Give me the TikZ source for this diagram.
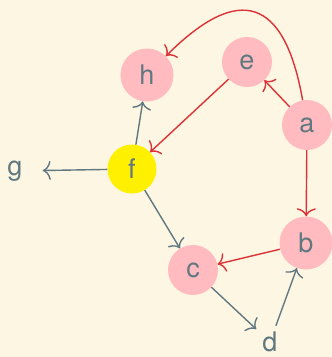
\documentclass[tikz,border=0pt]{standalone}
\usepackage{fontspec}
\setmainfont{TeX Gyre Heros}
\usepackage{xcolor}
\usetikzlibrary{
    arrows.meta,
    positioning
}
\definecolor{paper}{HTML}{FDF6E3}
\definecolor{ink}{HTML}{607880}
\definecolor{vertex}{HTML}{FFBBBF}
\definecolor{marked}{HTML}{FFF000}
\definecolor{hot}{HTML}{DC3236}

\begin{document}
\begin{tikzpicture}[
        x=1pt, y=-1pt,
        vertex/.style={
            circle,
            fill=vertex,
            text=ink,
            minimum size=50pt,
            inner sep=0pt,
            font=\fontsize{27}{30}\selectfont
        },
        plain/.style={
            text=ink,
            inner sep=6pt,
            font=\fontsize{27}{30}\selectfont
        },
        line/.style={
            -{Computer Modern Rightarrow[length=8pt,width=19pt]},
            line width=1.4pt,
            ink
        },
        hotline/.style={
            line,
            hot
        }
    ]

    \fill[paper] (0,0) rectangle (332,357);
    \useasboundingbox (0,0) rectangle (332,357);

    \node[vertex, minimum size=53pt] (h) at (147,75) {h};
    \node[vertex] (e) at (247,62) {e};
    \node[vertex] (a) at (307,125) {a};
    \node[vertex, fill=marked, minimum size=49pt] (f) at (132,169) {f};
    \node[plain] (g) at (15,171) {g};
    \node[vertex, minimum size=53pt] (b) at (306,243) {b};
    \node[vertex] (c) at (193,270) {c};
    \node[plain] (d) at (270,342) {d};

    \draw[hotline] (a) to[out=100, in=45, looseness=1.85] (h);
    \draw[hotline] (a) -- (e);
    \draw[hotline] (e) -- (f);
    \draw[hotline] (a) -- (b);
    \draw[hotline] (b) -- (c);
    \draw[line] (f) -- (h);
    \draw[line, shorten >=14pt] (f) -- (g);
    \draw[line] (f) -- (c);
    \draw[line] (c) -- (d);
    \draw[line] (d) -- (b);

\end{tikzpicture}
\end{document}
